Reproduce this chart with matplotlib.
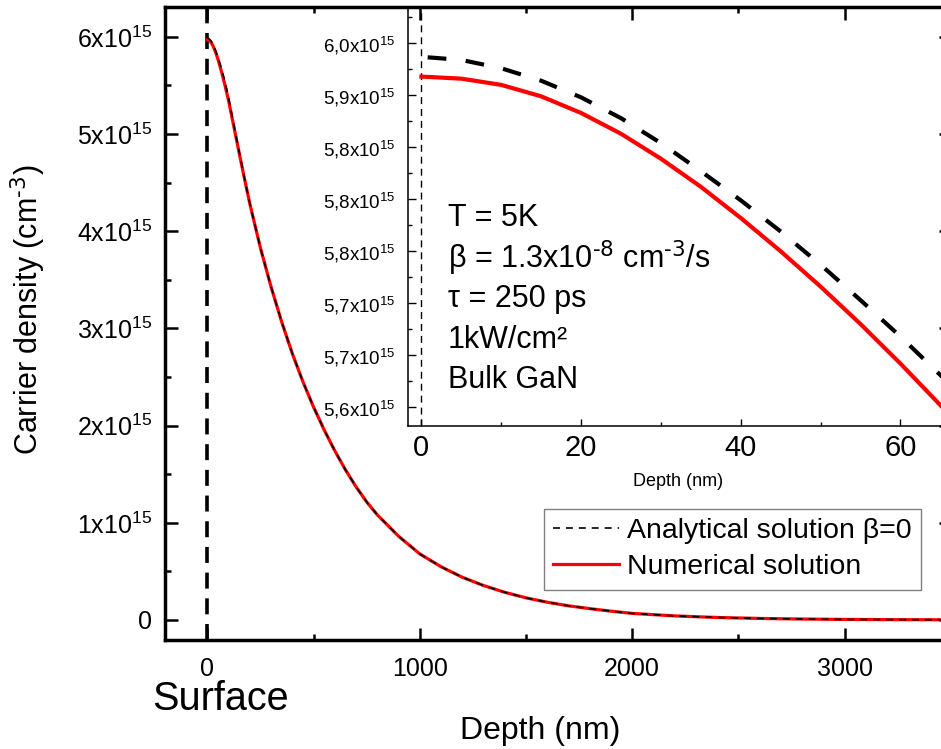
import matplotlib
matplotlib.use('Agg')
import matplotlib.pyplot as plt
from matplotlib.ticker import MultipleLocator, FixedLocator

plt.rcParams['font.family'] = ['Liberation Sans', 'DejaVu Sans']
plt.rcParams['mathtext.default'] = 'regular'
plt.rcParams['lines.scale_dashes'] = False

# carrier density in units of 1e15 cm^-3, depth in nm
depth = [0, 5, 10, 15, 20, 25, 30, 35, 40, 45, 50, 55, 60, 65, 70, 80, 90, 100,
         125, 150, 175, 200, 250, 300, 350, 400, 450, 500, 550, 600, 650, 700,
         750, 800, 900, 1000, 1100, 1200, 1300, 1400, 1500, 1600, 1700, 1800,
         1900, 2000, 2200, 2400, 2600, 2800, 3000, 3200, 3500]
numerical = [5.968, 5.966, 5.960, 5.949, 5.933, 5.913, 5.889, 5.862, 5.832, 5.800,
             5.766, 5.730, 5.692, 5.652, 5.611, 5.525, 5.434, 5.340,
             5.070, 4.800, 4.535, 4.280, 3.825, 3.425, 3.065, 2.740, 2.450, 2.190,
             1.955, 1.740, 1.545, 1.370, 1.215, 1.082, 0.862, 0.680, 0.548, 0.440,
             0.355, 0.285, 0.228, 0.183, 0.146, 0.117, 0.091, 0.068, 0.042, 0.026,
             0.016, 0.010, 0.006, 0.004, 0.002]
analytical = [5.987, 5.984, 5.976, 5.964, 5.948, 5.928, 5.904, 5.877, 5.849, 5.819,
              5.787, 5.753, 5.718, 5.681, 5.642, 5.560, 5.470, 5.370,
              5.090, 4.812, 4.540, 4.280, 3.825, 3.425, 3.065, 2.740, 2.450, 2.190,
              1.955, 1.740, 1.545, 1.370, 1.215, 1.082, 0.862, 0.680, 0.548, 0.440,
              0.355, 0.285, 0.228, 0.183, 0.146, 0.117, 0.091, 0.068, 0.042, 0.026,
              0.016, 0.010, 0.006, 0.004, 0.002]

main_yticks = [0, 1, 2, 3, 4, 5, 6]
main_yticklabels = ['0'] + ['%dx10$^{15}$' % v for v in main_yticks[1:]]
inset_yticks = [6.00, 5.95, 5.90, 5.85, 5.80, 5.75, 5.70, 5.65]
inset_yticklabels = ['6,0x10$^{15}$', '5,9x10$^{15}$', '5,8x10$^{15}$', '5,8x10$^{15}$',
                     '5,8x10$^{15}$', '5,7x10$^{15}$', '5,7x10$^{15}$', '5,6x10$^{15}$']
info_lines = ['T = 5K', 'β = 1.3x10$^{\\text{-8}}$ cm$^{\\text{-3}}$/s', 'τ = 250 ps',
              '1kW/cm²', 'Bulk GaN']

fig = plt.figure(figsize=(9.41, 7.49), dpi=100)

# main panel (right edge deliberately just outside the picture)
ax = fig.add_axes([0.1753, 0.1455, 0.835, 0.8451])
ax.axvline(0, color='black', lw=2.6, ls=(0, (11.5, 7)))
ln_num, = ax.plot(depth, numerical, color='red', lw=2.3, label='Numerical solution')
ln_ana, = ax.plot(depth, analytical, color='black', lw=1.2, ls=(0, (5, 4.3)),
                  label='Analytical solution β=0')
ax.set_xlim(-200, 3500)
ax.set_ylim(-0.206, 6.307)
ax.xaxis.set_major_locator(MultipleLocator(1000))
ax.xaxis.set_minor_locator(MultipleLocator(500))
ax.yaxis.set_major_locator(FixedLocator(main_yticks))
ax.yaxis.set_minor_locator(MultipleLocator(0.5))
ax.set_yticklabels(main_yticklabels)
ax.tick_params(which='both', direction='in', top=True, right=True, width=1.8,
               labelsize=18)
ax.tick_params(which='major', length=9)
ax.tick_params(which='minor', length=4.5)
ax.tick_params(axis='x', pad=12)
ax.tick_params(axis='y', pad=9)
for s in ax.spines.values():
    s.set_linewidth(2.5)

ax.set_xlabel('Depth (nm)', fontsize=23, va='center')
ax.xaxis.set_label_coords((540 - 165) / 786, (640 - 731) / 633)
ax.set_ylabel('Carrier density (cm$^{\\text{-3}}$)', fontsize=22, va='center')
ax.yaxis.set_label_coords((28 - 165) / 786, (640 - 310) / 633)
fig.text(220 / 941, 1 - 699 / 749, 'Surface', fontsize=28.5, ha='center', va='center')

leg = ax.legend(handles=[ln_ana, ln_num], loc='upper left', fontsize=20.5,
                bbox_to_anchor=(544 / 941, 1 - 509 / 749),
                bbox_transform=fig.transFigure, borderaxespad=0, fancybox=False,
                edgecolor='#808080', handlelength=2.3, handletextpad=0.3,
                labelspacing=0.35, borderpad=0.33, framealpha=1)
leg.get_frame().set_linewidth(1.0)

# inset: zoom on the first 65 nm
ins = fig.add_axes([0.43358, 0.43164, 0.57386, 0.55901])
ins.set_facecolor('none')
ins.axvline(0, color='black', lw=1.0, ls=(0, (5, 3.6)))
ins.plot(depth, analytical, color='black', lw=3.0, ls=(23, (13.5, 14)))
ins.plot(depth, numerical, color='red', lw=3.0)
ins.set_xlim(-1.68, 65.95)
ins.set_ylim(5.6323, 6.0349)
ins.xaxis.set_major_locator(MultipleLocator(20))
ins.xaxis.set_minor_locator(MultipleLocator(10))
ins.yaxis.set_major_locator(FixedLocator(inset_yticks))
ins.yaxis.set_minor_locator(MultipleLocator(0.025))
ins.set_yticklabels(inset_yticklabels)
ins.tick_params(which='both', direction='in', width=1.0)
ins.tick_params(which='major', length=5.4)
ins.tick_params(which='minor', length=2.6)
ins.tick_params(axis='x', labelsize=21, pad=6)
ins.tick_params(axis='y', labelsize=13.5, pad=9)
ins.spines['top'].set_visible(False)
for s in ['left', 'bottom', 'right']:
    ins.spines[s].set_linewidth(1.1)
ins.set_xlabel('Depth (nm)', fontsize=13, labelpad=8)

y0 = 218
for i, line in enumerate(info_lines):
    ypx = y0 + 40.5 * i
    ins.text((448 - 408) / 540, (425.7 - ypx) / 418.7, line, fontsize=22,
             transform=ins.transAxes, ha='left', va='center')

plt.savefig('out.png', dpi=100)
